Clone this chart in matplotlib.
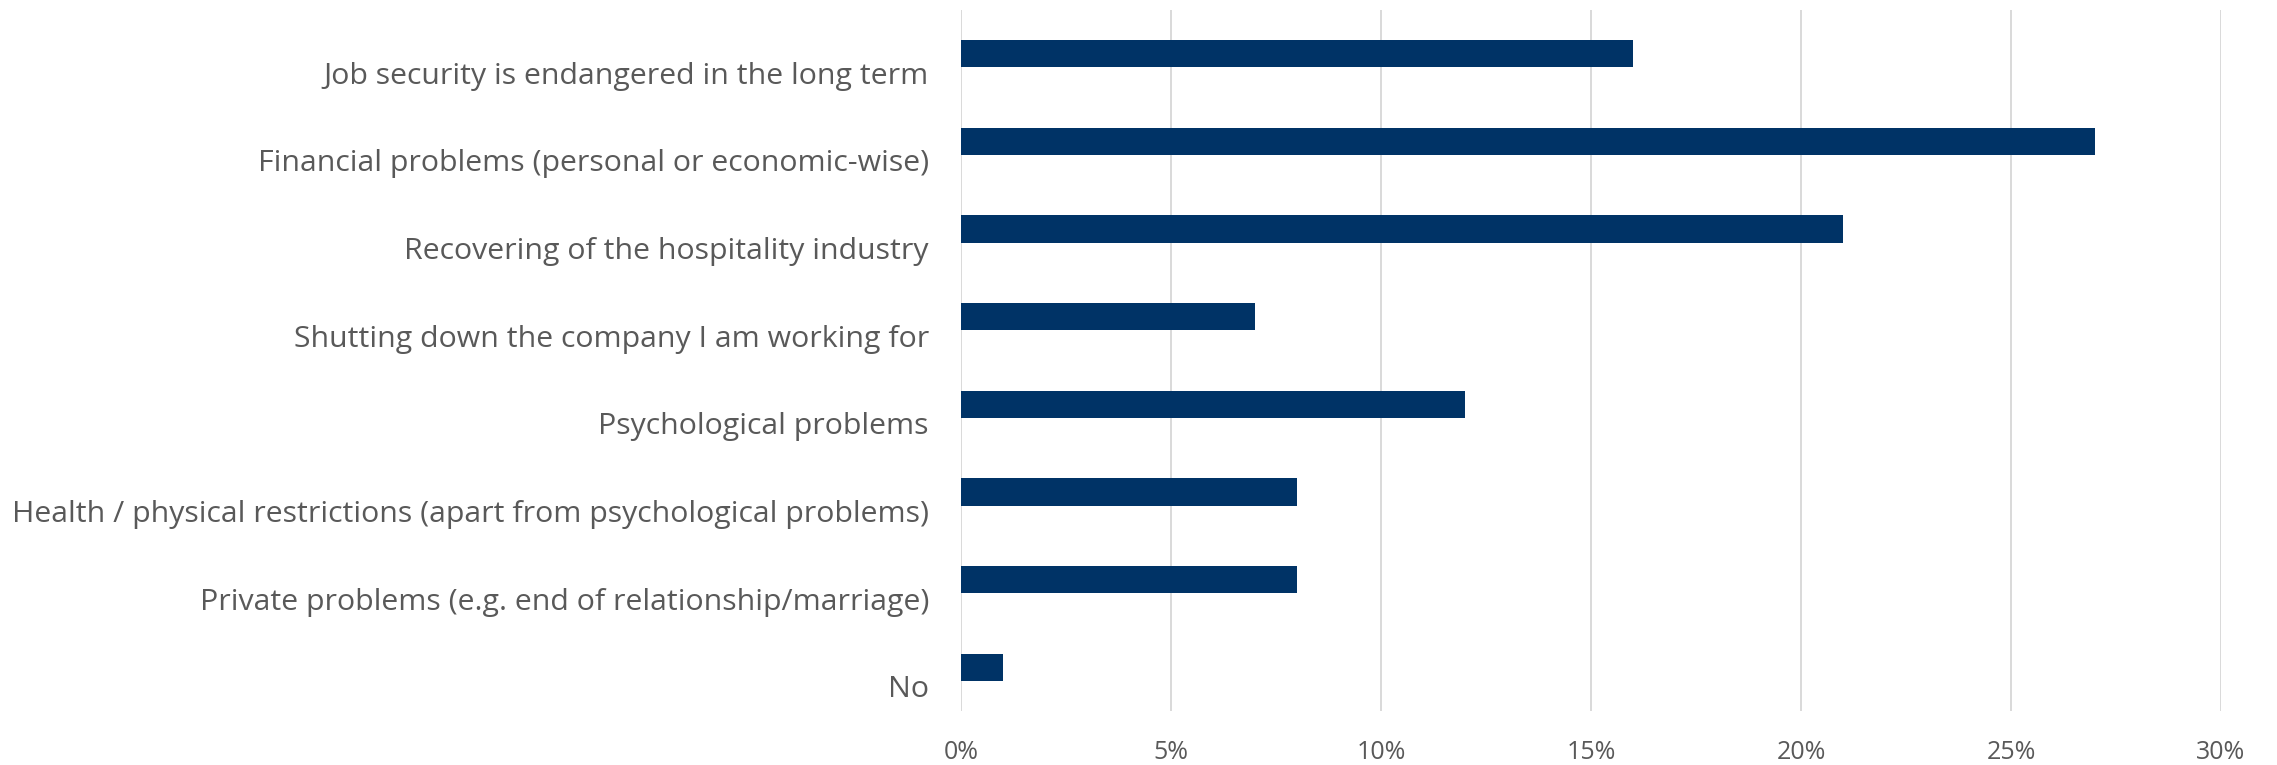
import matplotlib
matplotlib.use("Agg")
import matplotlib.pyplot as plt
from matplotlib.ticker import FuncFormatter
from matplotlib.transforms import ScaledTranslation

# data (top to bottom as shown)
categories = [
    "Job security is endangered in the long term",
    "Financial problems (personal or economic-wise)",
    "Recovering of the hospitality industry",
    "Shutting down the company I am working for",
    "Psychological problems",
    "Health / physical restrictions (apart from psychological problems)",
    "Private problems (e.g. end of relationship/marriage)",
    "No",
]
shares = [0.16, 0.27, 0.21, 0.07, 0.12, 0.08, 0.08, 0.01]
x_ticks = [0, 0.05, 0.10, 0.15, 0.20, 0.25, 0.30]

plt.rcParams['font.family'] = ['Open Sans', 'DejaVu Sans']

fig = plt.figure(figsize=(22.77, 7.65), dpi=100)
ax = fig.add_axes([0.422, 0.0706, 0.5534, 0.9163])

ypos = list(range(len(categories)))
ax.barh(ypos, shares, height=0.31, color='#003366', zorder=3)
ax.set_yticks(ypos)
ax.set_yticklabels(categories)
ax.set_ylim(len(categories) - 0.5, -0.5)

ax.set_xlim(0, 0.30)
ax.set_xticks(x_ticks)
ax.xaxis.set_major_formatter(FuncFormatter(lambda v, p: f"{v*100:.0f}%"))
ax.grid(axis='x', color='#d9d9d9', linewidth=1.4, zorder=0)

for s in ax.spines.values():
    s.set_visible(False)
ax.tick_params(axis='both', length=0, colors='#595959')
ax.tick_params(axis='y', labelsize=21.8, pad=23)
ax.tick_params(axis='x', labelsize=18, pad=21)

# category labels sit a little below the bars in the original
shift = ScaledTranslation(0, -0.19, fig.dpi_scale_trans)
for lbl in ax.get_yticklabels():
    lbl.set_transform(lbl.get_transform() + shift)

fig.savefig("out.png", dpi=100)
